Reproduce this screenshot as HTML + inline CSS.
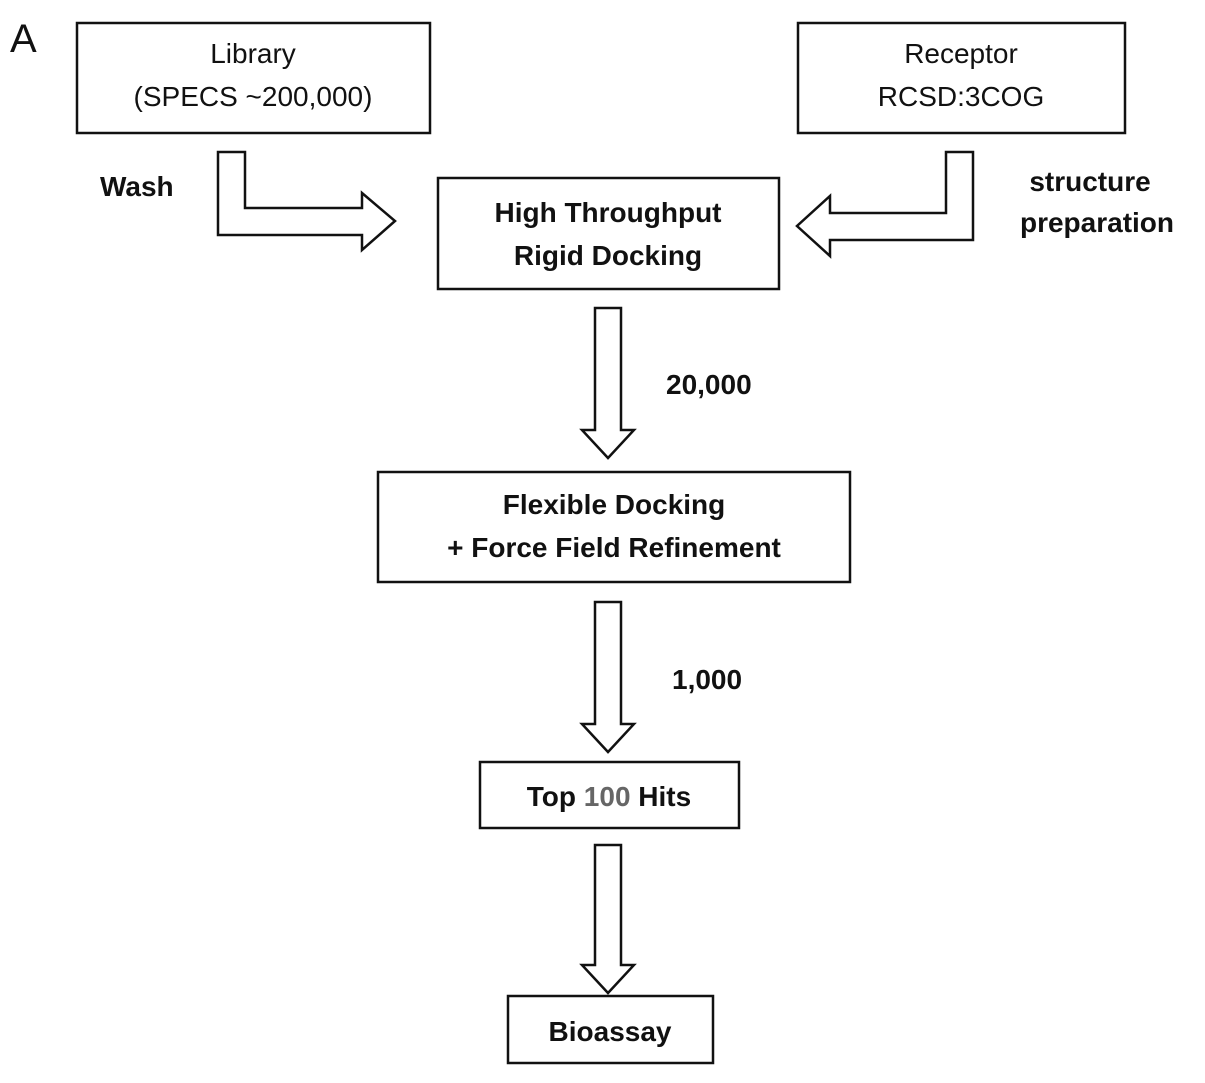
<!DOCTYPE html>
<html><head><style>
body{margin:0;background:#fff;}
svg text{font-family:"Liberation Sans",Arial,sans-serif;font-weight:bold;fill:#111;}
</style></head><body>
<svg width="1205" height="1078" viewBox="0 0 1205 1078" xmlns="http://www.w3.org/2000/svg">
<g fill="#fff" stroke="#111" stroke-width="2.5">
<rect x="77" y="23" width="353" height="110"/>
<rect x="798" y="23" width="327" height="110"/>
<rect x="438" y="178" width="341" height="111"/>
<rect x="378" y="472" width="472" height="110"/>
<rect x="480" y="762" width="259" height="66"/>
<rect x="508" y="996" width="205" height="67"/>
<path d="M218,152 H245 V208 H362 V193 L395,221 L362,250 V235 H218 Z"/>
<path d="M946,152 H973 V240 H830 V256 L797,226 L830,196 V213 H946 Z"/>
<path d="M595,308 H621 V430 H634 L608,458 L582,430 H595 Z"/>
<path d="M595,602 H621 V724 H634 L608,752 L582,724 H595 Z"/>
<path d="M595,845 H621 V965 H634 L608,993 L582,965 H595 Z"/>
</g>
<text x="10" y="52" font-size="40" style="font-weight:normal">A</text>
<g font-size="28" text-anchor="middle" style="font-weight:normal">
<text x="253" y="63" style="font-weight:normal">Library</text>
<text x="253" y="106" style="font-weight:normal">(SPECS ~200,000)</text>
<text x="961" y="63" style="font-weight:normal">Receptor</text>
<text x="961" y="106" style="font-weight:normal">RCSD:3COG</text>
</g>
<g font-size="28" text-anchor="middle">
<text x="608" y="222">High Throughput</text>
<text x="608" y="265">Rigid Docking</text>
<text x="614" y="514">Flexible Docking</text>
<text x="614" y="557">+ Force Field Refinement</text>
<text x="609" y="806">Top <tspan fill="#666">100</tspan> Hits</text>
<text x="610" y="1041">Bioassay</text>
</g>
<g font-size="28">
<text x="100" y="196">Wash</text>
<text x="1090" y="191" text-anchor="middle">structure</text>
<text x="1097" y="232" text-anchor="middle">preparation</text>
<text x="666" y="394">20,000</text>
<text x="672" y="689">1,000</text>
</g>
</svg>
</body></html>
